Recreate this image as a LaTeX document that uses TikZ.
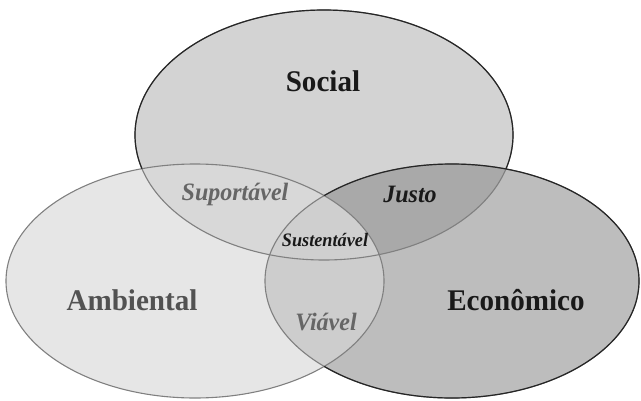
\documentclass[tikz,border=0pt]{standalone}
\usepackage{fontspec}
\setmainfont{Liberation Serif}

\definecolor{ambfill}{HTML}{E6E6E6}
\definecolor{socfill}{HTML}{D3D3D3}
\definecolor{ecofill}{HTML}{BDBDBD}
\definecolor{supfill}{HTML}{D8D8D8}
\definecolor{jusfill}{HTML}{A9A9A9}
\definecolor{viafill}{HTML}{CDCDCD}
\definecolor{susfill}{HTML}{CFCFCF}

% the three circles of the diagram
\newcommand{\pathsoc}{(324,135) ellipse [x radius=189pt, y radius=125pt]}
\newcommand{\pathamb}{(195,281) ellipse [x radius=189pt, y radius=117pt]}
\newcommand{\patheco}{(452,281) ellipse [x radius=187pt, y radius=117pt]}
\newcommand{\outside}{(-20,-20) rectangle (660,420)}

\tikzset{
  mainlabel/.style={font=\bfseries\fontsize{30}{30}\selectfont, xscale=0.97},
  pairlabel/.style={font=\bfseries\itshape\fontsize{25}{25}\selectfont, xscale=0.96},
  greyline/.style={draw=black!50, line width=1.1pt},
  darkline/.style={draw=black!85, line width=1.2pt},
}

\begin{document}
\begin{tikzpicture}[x=1pt,y=-1pt]
        \useasboundingbox (0,0) rectangle (641,400);
        % Plain fills
        \fill[ambfill] \pathamb;
        \fill[socfill] \pathsoc;
        \fill[ecofill] \patheco;
        % Two by two
        \begin{scope}
          \clip \pathsoc;
          \fill[supfill] \pathamb;
          \fill[jusfill] \patheco;
        \end{scope}
        \begin{scope}
          \clip \pathamb;
          \fill[viafill] \patheco;
        \end{scope}
        % All three
        \begin{scope}
          \clip \pathsoc;
          \clip \pathamb;
          \fill[susfill] \patheco;
        \end{scope}
        % Outlines
        \draw[greyline] \pathamb;
        \draw[greyline] \pathsoc;
        \draw[greyline] \patheco;
        \begin{scope}[even odd rule]
          \clip \outside \pathamb;
          \draw[darkline] \patheco;
          \clip \outside \patheco;
          \draw[darkline] \pathsoc;
        \end{scope}
        % Labels
        \node[mainlabel, text=black!90] (social) at (323,81) {Social};
        \node[mainlabel, text=black!68] (ambiental) at (132,300) {Ambiental};
        \node[mainlabel, text=black!90] (economico) at (516,300) {Econômico};
        \node[pairlabel, text=black!60] (suportavel) at (235,194) {Suportável};
        \node[pairlabel, text=black!90] (justo) at (410,194) {Justo};
        \node[pairlabel, text=black!60] (viavel) at (326,322) {Viável};
        \node[font=\bfseries\itshape\fontsize{19}{19}\selectfont, xscale=0.96, text=black!90] (sustentavel) at (325,240) {Sustentável};
      \end{tikzpicture}
\end{document}
